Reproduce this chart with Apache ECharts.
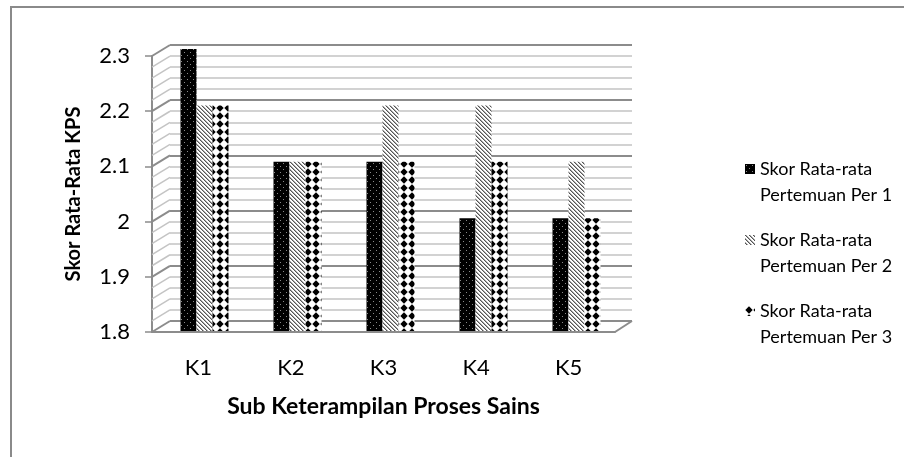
<!DOCTYPE html>
<html>
<head>
<meta charset="utf-8">
<title>Skor Rata-Rata KPS</title>
<script src="https://cdn.jsdelivr.net/npm/echarts/dist/echarts.min.js"></script>
<style>
  html, body { margin: 0; padding: 0; background: #fff; }
  #chart { width: 904px; height: 457px; }
</style>
</head>
<body>
<div id="chart"></div>
<script>
  // data
  var categories = ['K1', 'K2', 'K3', 'K4', 'K5'];
  var per1 = [2.3, 2.1, 2.1, 2.0, 2.0];
  var per2 = [2.2, 2.1, 2.2, 2.2, 2.1];
  var per3 = [2.2, 2.1, 2.1, 2.1, 2.0];
  var seriesNames = [
    'Skor Rata-rata\nPertemuan Per 1',
    'Skor Rata-rata\nPertemuan Per 2',
    'Skor Rata-rata\nPertemuan Per 3'
  ];
  var yMin = 1.8, yMax = 2.3, yStep = 0.1;

  var FONT = 'Lato';

  // pattern fills like the excel ones
  function dots() {
    var c = document.createElement('canvas');
    c.width = 6; c.height = 6;
    var g = c.getContext('2d');
    g.fillStyle = '#000'; g.fillRect(0, 0, 6, 6);
    g.fillStyle = '#8a8a8a';
    g.fillRect(1, 1, 1, 1);
    g.fillRect(4, 4, 1, 1);
    return c;
  }
  function stripes() {
    var c = document.createElement('canvas');
    c.width = 4; c.height = 4;
    var g = c.getContext('2d');
    g.fillStyle = '#fff'; g.fillRect(0, 0, 4, 4);
    for (var i = 0; i < 4; i++) {
      g.fillStyle = '#555'; g.fillRect(i, i, 1, 1);
      g.fillStyle = '#aaa'; g.fillRect((i + 1) % 4, i, 1, 1);
    }
    return c;
  }
  function diamonds() {
    var c = document.createElement('canvas');
    c.width = 8; c.height = 8;
    var g = c.getContext('2d');
    g.fillStyle = '#fff'; g.fillRect(0, 0, 8, 8);
    g.fillStyle = '#000';
    g.beginPath();
    g.moveTo(4, 0.3); g.lineTo(7.7, 4); g.lineTo(4, 7.7); g.lineTo(0.3, 4);
    g.closePath(); g.fill();
    return c;
  }
  var fills = [
    { image: dots(), repeat: 'repeat' },
    { image: stripes(), repeat: 'repeat' },
    { image: diamonds(), repeat: 'repeat' }
  ];

  var myChart = echarts.init(document.getElementById('chart'));

  // left wall + floor edge of the fake 3d box
  function renderWall(params, api) {
    var cs = params.coordSys;
    var kids = [];
    for (var k = 0; k <= 25; k++) {
      var v = yMin + k * 0.02;
      var y = api.coord([0, v])[1];
      var major = k % 5 === 0;
      kids.push({
        type: 'line',
        shape: { x1: cs.x, y1: y, x2: cs.x + 18, y2: y - 11 },
        style: { stroke: major ? '#8c8c8c' : '#c4c4c4', lineWidth: major ? 2 : 1.5 }
      });
    }
    kids.push({
      type: 'line',
      shape: { x1: cs.x + cs.width, y1: cs.y + cs.height, x2: cs.x + cs.width + 17, y2: cs.y + cs.height - 11 },
      style: { stroke: '#8c8c8c', lineWidth: 2 }
    });
    return { type: 'group', children: kids };
  }

  var barSeries = [per1, per2, per3].map(function (d, i) {
    return {
      name: seriesNames[i],
      type: 'bar',
      xAxisIndex: 2,
      yAxisIndex: 2,
      barWidth: 16,
      barGap: '0%',
      z: 3,
      itemStyle: { color: fills[i] },
      data: d
    };
  });

  var option = {
    backgroundColor: '#fff',
    animation: false,
    graphic: [{
      type: 'rect',
      shape: { x: 11, y: 7, width: 1000, height: 1000 },
      style: { fill: 'none', stroke: '#8a8a8a', lineWidth: 2 },
      silent: true
    }],
    legend: {
      orient: 'vertical',
      left: 740,
      top: 125,
      itemWidth: 10,
      itemHeight: 10,
      itemGap: -7,
      icon: 'rect',
      // blank first line so the marker sits beside the first text line
      formatter: function (name) { return ' \n' + name; },
      textStyle: {
        fontFamily: FONT,
        fontSize: 18,
        lineHeight: 26,
        color: '#000'
      },
      data: seriesNames
    },
    grid: [
      { left: 152, top: 56, width: 463, height: 276 },
      { left: 170, top: 45, width: 462, height: 276 },
      { left: 158, top: 49, width: 465, height: 282 }
    ],
    xAxis: [
      {
        type: 'category',
        gridIndex: 0,
        data: categories,
        axisLine: { lineStyle: { color: '#8c8c8c', width: 2 } },
        axisTick: { show: false },
        axisLabel: { fontFamily: FONT, fontSize: 22, color: '#000', margin: 25 },
        name: 'Sub Keterampilan Proses Sains',
        nameLocation: 'middle',
        nameGap: 63,
        nameTextStyle: { fontFamily: FONT, fontSize: 23, fontWeight: 'bold', color: '#000' }
      },
      { type: 'category', gridIndex: 1, data: categories, show: false },
      { type: 'category', gridIndex: 2, data: categories, show: false }
    ],
    yAxis: [
      {
        type: 'value',
        gridIndex: 0,
        min: yMin,
        max: yMax,
        interval: yStep,
        axisLine: { show: true, lineStyle: { color: '#8c8c8c', width: 2 } },
        axisTick: { show: true, length: 7, lineStyle: { color: '#8c8c8c', width: 1.5 } },
        splitLine: { show: false },
        axisLabel: { fontFamily: FONT, fontSize: 22, color: '#000', margin: 22 },
        name: 'Skor Rata-Rata KPS',
        nameLocation: 'middle',
        nameGap: 68,
        nameTextStyle: { fontFamily: FONT, fontSize: 20, fontWeight: 'bold', color: '#000' }
      },
      {
        type: 'value',
        gridIndex: 1,
        min: yMin,
        max: yMax,
        interval: yStep,
        axisLine: { show: false },
        axisTick: { show: false },
        axisLabel: { show: false },
        splitLine: { show: true, lineStyle: { color: '#8c8c8c', width: 2 } },
        minorTick: { show: false, splitNumber: 5 },
        minorSplitLine: { show: true, lineStyle: { color: '#c4c4c4', width: 1.5 } }
      },
      { type: 'value', gridIndex: 2, min: yMin, max: yMax, interval: yStep, show: false }
    ],
    series: [{
      type: 'custom',
      xAxisIndex: 0,
      yAxisIndex: 0,
      silent: true,
      clip: false,
      z: 1,
      renderItem: renderWall,
      data: [[0, yMin]]
    }].concat(barSeries)
  };

  if (option && typeof option === "object") {
    myChart.setOption(option, true);
  }
</script>
</body>
</html>
